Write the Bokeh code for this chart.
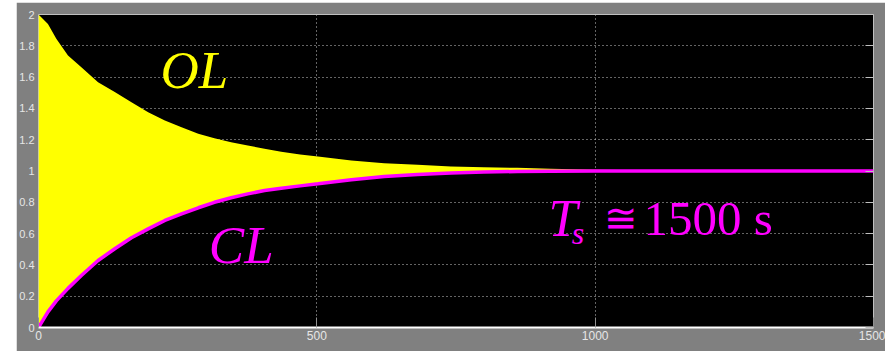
from bokeh.plotting import figure
from bokeh.models import Range1d, FixedTicker, LinearAxis, Spacer
from bokeh.layouts import row, column
from bokeh.core.properties import value
from bokeh.embed import file_html
from bokeh.resources import INLINE

# time samples (s)
t = [0, 17, 32, 53, 77, 107, 137, 167, 197, 227, 257, 287, 316, 346, 376,
     406, 436, 470, 502, 562, 621, 681, 741, 800, 860, 920, 1000, 1100,
     1200, 1300, 1400, 1500]

# open-loop response: upper envelope of the oscillation
ol_upper = [2.0, 1.94, 1.845, 1.738, 1.663, 1.567, 1.504, 1.44, 1.376, 1.323,
            1.28, 1.238, 1.21, 1.184, 1.163, 1.142, 1.123, 1.105, 1.093, 1.067,
            1.05, 1.04, 1.029, 1.024, 1.02, 1.015, 1.008, 1.004, 1.002, 1.001,
            1.0, 1.0]

# closed-loop response (also the lower envelope of the open-loop band)
cl = [0.0, 0.10, 0.17, 0.25, 0.332, 0.428, 0.503, 0.573, 0.63, 0.684, 0.726,
      0.765, 0.80, 0.829, 0.854, 0.875, 0.89, 0.905, 0.918, 0.944, 0.965,
      0.978, 0.988, 0.993, 0.997, 0.999, 1.0, 1.0, 1.0, 1.0, 1.0, 1.0]

x_ticks = [0, 500, 1000, 1500]
x_tick_labels = ["0", "500", "1000", "1500"]
y_ticks = [0, 0.2, 0.4, 0.6, 0.8, 1, 1.2, 1.4, 1.6, 1.8, 2]
y_tick_labels = ["0", "0.2", "0.4", "0.6", "0.8", "1", "1.2", "1.4", "1.6",
                 "1.8", "2"]

YELLOW = "#ffff00"
MAGENTA = "#ff00ff"
PANEL = "#808080"
LABEL = "#e6e6e6"
GRID = "#c8c8c8"

p = figure(width=869, height=349, x_range=Range1d(0, 1500),
           y_range=Range1d(0, 2), output_backend="svg",
           toolbar_location=None, background_fill_color="black",
           border_fill_color=PANEL, min_border_left=21, min_border_right=12,
           min_border_top=12, min_border_bottom=24,
           outline_line_color="#c0c0c0")

# left / bottom axes
p.xaxis.ticker = FixedTicker(ticks=x_ticks)
p.xaxis.major_label_overrides = {v: s for v, s in zip(x_ticks, x_tick_labels)}
p.yaxis.ticker = FixedTicker(ticks=y_ticks)
p.yaxis.major_label_overrides = {v: s for v, s in zip(y_ticks, y_tick_labels)}

p.xaxis.axis_line_color = "#ffffff"
p.xaxis.axis_line_width = 2
p.xaxis.major_tick_in = 10
p.xaxis.major_tick_out = 0
p.xaxis.major_tick_line_color = "#909090"
p.xaxis.major_label_standoff = 3
p.xaxis.minor_tick_line_color = None

p.yaxis.axis_line_color = None
p.yaxis.major_tick_in = 0
p.yaxis.major_tick_out = 0
p.yaxis.major_label_standoff = 4
p.yaxis.minor_tick_line_color = None

for ax in (p.xaxis, p.yaxis):
    ax.major_label_text_color = LABEL
    ax.major_label_text_font = "Liberation Sans"
p.xaxis.major_label_text_font_size = "12px"
p.yaxis.major_label_text_font_size = "11px"

# right axis: inward ticks only
right = LinearAxis(ticker=FixedTicker(ticks=y_ticks),
                   major_label_overrides={v: "" for v in y_ticks},
                   axis_line_color=None, major_tick_in=8, major_tick_out=0,
                   major_tick_line_color="#c0c0c0", minor_tick_line_color=None,
                   major_label_standoff=0)
p.add_layout(right, "right")

# dotted grid
p.xgrid.ticker = FixedTicker(ticks=x_ticks)
p.ygrid.ticker = FixedTicker(ticks=y_ticks)
for g in (p.xgrid, p.ygrid):
    g.grid_line_color = GRID
    g.grid_line_dash = "1 3"
    g.grid_line_width = 1

# open-loop oscillation band and closed-loop curve
p.varea(x=t, y1=cl, y2=ol_upper, fill_color=YELLOW)
p.line(x=t, y=cl, line_color=MAGENTA, line_width=3.5)

serif = value("Liberation Serif")
p.text(x=[219], y=[1.645], text=["OL"], text_color=YELLOW, text_font=serif,
       text_font_style="italic", text_font_size="53px",
       text_baseline="alphabetic", text_align="left")
p.text(x=[306], y=[0.528], text=["CL"], text_color=MAGENTA, text_font=serif,
       text_font_style="italic", text_font_size="53px",
       text_baseline="alphabetic", text_align="left")
p.text(x=[916], y=[0.698], text=["T"], text_color=MAGENTA, text_font=serif,
       text_font_style="italic", text_font_size="52px",
       text_baseline="alphabetic", text_align="left")
p.text(x=[958], y=[0.607], text=["s"], text_color=MAGENTA, text_font=serif,
       text_font_style="italic", text_font_size="32px",
       text_baseline="alphabetic", text_align="left")
p.text(x=[1016], y=[0.698], text=["\u2245"], text_color=MAGENTA,
       text_font=value("DejaVu Serif"), text_font_size="40px",
       text_baseline="alphabetic", text_align="left")
p.text(x=[1087], y=[0.698], text=["1500 s"], text_color=MAGENTA,
       text_font=serif, text_font_size="49px",
       text_baseline="alphabetic", text_align="left")

layout = column(Spacer(height=2), row(Spacer(width=16), p))
open("out.html", "w").write(file_html(layout, INLINE))
